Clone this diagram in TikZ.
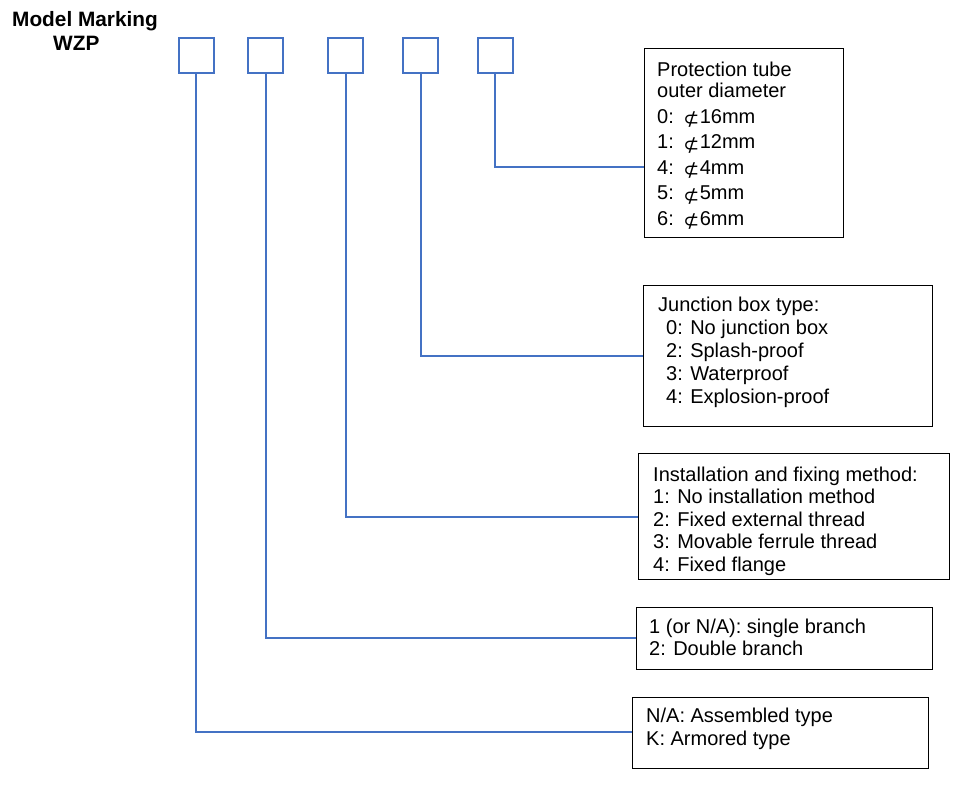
\documentclass[tikz,border=0pt]{standalone}
\usepackage{fontspec}
\setmainfont{Liberation Sans}
\newfontfamily\diafont{DejaVu Sans}
\definecolor{lineblue}{RGB}{68,114,196}
\newcommand{\dia}{\raisebox{-2.5pt}{\diafont\fontsize{19}{19}\selectfont ⊄}}
\begin{document}
\begin{tikzpicture}[x=1pt,y=-1pt,
  sq/.style={draw=lineblue,line width=2pt,minimum size=35pt,inner sep=0pt},
  conn/.style={draw=lineblue,line width=2pt},
  bigbox/.style={draw=black,line width=1.4pt,inner sep=0pt,anchor=north west},
  title/.style={inner sep=0pt,anchor=base west,font=\fontsize{20.8}{24}\selectfont\bfseries},
  txt/.style={align=left,inner sep=0pt,anchor=north west}]
\useasboundingbox[fill=white] (0,0) rectangle (954,787);

% title
\node[title] (t1) at (12,26) {Model Marking};
\node[title] (t2) at (53,50) {WZP};

% small squares
\node[sq] (s1) at (196,55.5) {};
\node[sq] (s2) at (265.5,55.5) {};
\node[sq] (s3) at (345.5,55.5) {};
\node[sq] (s4) at (420.5,55.5) {};
\node[sq] (s5) at (495,55.5) {};

% big boxes
\node[bigbox,minimum width=199pt,minimum height=189pt] (bA) at (644,48) {};
\node[bigbox,minimum width=289pt,minimum height=141pt] (bB) at (643,285) {};
\node[bigbox,minimum width=311pt,minimum height=126pt] (bC) at (638,453) {};
\node[bigbox,minimum width=296pt,minimum height=62pt] (bD) at (636,607) {};
\node[bigbox,minimum width=296pt,minimum height=71pt] (bE) at (632,697) {};

% texts
\node[txt,font=\fontsize{20}{21.5}\selectfont] (xA) at (657,61.5)
  {Protection tube\\outer diameter\\[4pt]
   0:\hspace{9.5pt}\dia\hspace{0.5pt}16mm\\[4pt]
   1:\hspace{9.5pt}\dia\hspace{0.5pt}12mm\\[4pt]
   4:\hspace{9.5pt}\dia\hspace{0.5pt}4mm\\[4pt]
   5:\hspace{9.5pt}\dia\hspace{0.5pt}5mm\\[4pt]
   6:\hspace{9.5pt}\dia\hspace{0.5pt}6mm};
\node[txt,font=\fontsize{20}{23}\selectfont] (xB) at (658,296.5)
  {Junction box type:\\
   \hspace*{8pt}0: No junction box\\
   \hspace*{8pt}2: Splash-proof\\
   \hspace*{8pt}3: Waterproof\\
   \hspace*{8pt}4: Explosion-proof};
\node[txt,font=\fontsize{20}{22.5}\selectfont] (xC) at (653,466.5)
  {Installation and fixing method:\\
   1: No installation method\\
   2: Fixed external thread\\
   3: Movable ferrule thread\\
   4: Fixed flange};
\node[txt,font=\fontsize{20}{22.5}\selectfont] (xD) at (649,618.5)
  {1 (or N/A): single branch\\
   2: Double branch};
\node[txt,font=\fontsize{20}{23}\selectfont] (xE) at (646,707.5)
  {N/A: Assembled type\\
   K: Armored type};

% connector end points on the boxes
\coordinate (eA) at (bA.west |- 0,167);
\coordinate (eB) at (bB.west |- 0,356);
\coordinate (eC) at (bC.west |- 0,517);
\coordinate (eD) at (bD.west |- 0,638);
\coordinate (eE) at (bE.west |- 0,732);

\draw[conn] (s5.south) |- (eA);
\draw[conn] (s4.south) |- (eB);
\draw[conn] (s3.south) |- (eC);
\draw[conn] (s2.south) |- (eD);
\draw[conn] (s1.south) |- (eE);
\end{tikzpicture}
\end{document}
